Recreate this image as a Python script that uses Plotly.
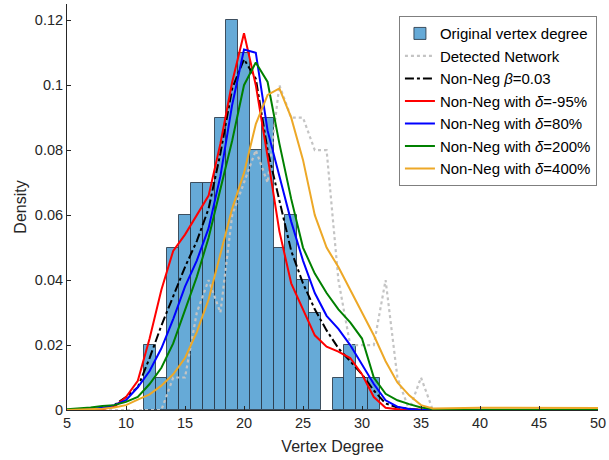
import plotly.graph_objects as go

# ---------------- data ----------------
degree = list(range(5, 51))

hist_centers = [12, 13, 14, 15, 16, 17, 18, 19, 20, 21, 22, 23, 24, 25, 26, 28, 29, 30, 31]
hist_density = [0.02, 0.01, 0.05, 0.06, 0.07, 0.07, 0.09, 0.12, 0.11, 0.08, 0.09, 0.05, 0.06,
                0.04, 0.03, 0.01, 0.02, 0.01, 0.01]

detected = [0, 0, 0, 0, 0, 0, 0, 0, 0, 0.01, 0.01, 0.03, 0.04, 0.03, 0.06, 0.07, 0.08, 0.07,
            0.10, 0.09, 0.09, 0.08, 0.08, 0.04, 0.02, 0.02, 0.02, 0.04, 0.01, 0, 0.01] + [0] * 15

beta_003 = [0, 0, 0.0001, 0.0004, 0.0015, 0.004, 0.007, 0.016, 0.026, 0.035, 0.044, 0.052,
            0.062, 0.079, 0.099, 0.108, 0.102, 0.080, 0.064, 0.049, 0.039, 0.031, 0.0245,
            0.019, 0.015, 0.011, 0.006, 0.002, 0.0008, 0.0003] + [0] * 16

delta_m95 = [0, 0, 0.0001, 0.0003, 0.001, 0.004, 0.009, 0.022, 0.037, 0.049, 0.054, 0.060,
             0.066, 0.082, 0.101, 0.116, 0.100, 0.078, 0.055, 0.039, 0.031, 0.023, 0.0195,
             0.018, 0.016, 0.011, 0.004, 0.0007, 0.0002, 0.0001] + [0] * 16

delta_80 = [0, 0.0001, 0.0003, 0.0007, 0.0015, 0.003, 0.007, 0.012, 0.019, 0.028, 0.038,
            0.046, 0.056, 0.072, 0.094, 0.111, 0.110, 0.086, 0.072, 0.058, 0.046, 0.036,
            0.029, 0.025, 0.020, 0.014, 0.008, 0.003, 0.001, 0.0003] + [0] * 16

delta_200 = [0.0002, 0.0004, 0.0008, 0.0012, 0.0015, 0.0025, 0.004, 0.008, 0.013, 0.0205,
             0.031, 0.041, 0.053, 0.068, 0.083, 0.100, 0.107, 0.101, 0.082, 0.065, 0.050,
             0.042, 0.036, 0.031, 0.027, 0.022, 0.010, 0.005, 0.003, 0.0018, 0.0008,
             0.0003] + [0.0001] * 14

delta_400 = [0, 0.0001, 0.0002, 0.0004, 0.0008, 0.0015, 0.0032, 0.0048, 0.0075, 0.011,
             0.016, 0.024, 0.034, 0.048, 0.062, 0.073, 0.088, 0.097, 0.099, 0.090, 0.077,
             0.060, 0.050, 0.044, 0.037, 0.030, 0.023, 0.015, 0.0085, 0.0045, 0.0015,
             0.0005, 0.0006, 0.0006, 0.0006, 0.0007, 0.0007, 0.0007, 0.0007, 0.0007,
             0.0007, 0.0007, 0.0006, 0.0006, 0.0006, 0.0006]

y_ticks = [0, 0.02, 0.04, 0.06, 0.08, 0.1, 0.12]
y_tick_text = ["0", "0.02", "0.04", "0.06", "0.08", "0.1", "0.12"]
x_ticks = [5, 10, 15, 20, 25, 30, 35, 40, 45, 50]

# ---------------- figure ----------------
FONT = "Liberation Sans, Arial, Helvetica, sans-serif"
fig = go.Figure()

fig.add_trace(go.Bar(
    x=hist_centers, y=hist_density, width=1,
    name="Original vertex degree",
    marker=dict(color="#66AAD7", line=dict(color="rgba(40,55,70,0.85)", width=1)),
))

lines = [
    ("Detected Network", detected, dict(color="#C4C4C4", width=2.2, dash="dot")),
    ("Non-Neg <i>β</i>=0.03", beta_003, dict(color="black", width=2, dash="dashdot")),
    ("Non-Neg with <i>δ</i>=-95%", delta_m95, dict(color="#FF0000", width=2)),
    ("Non-Neg with <i>δ</i>=80%", delta_80, dict(color="#0000FF", width=2)),
    ("Non-Neg with <i>δ</i>=200%", delta_200, dict(color="#008000", width=2)),
    ("Non-Neg with <i>δ</i>=400%", delta_400, dict(color="#EDA827", width=2)),
]
for name, vals, ln in lines:
    fig.add_trace(go.Scatter(x=degree, y=vals, mode="lines", name=name, line=ln))

fig.update_layout(
    width=609, height=460,
    margin=dict(l=67, r=11, t=4, b=50),
    paper_bgcolor="white", plot_bgcolor="white",
    font=dict(family=FONT, size=14, color="#262626"),
    bargap=0,
    showlegend=True,
    legend=dict(
        x=0.998, y=0.97, xanchor="right", yanchor="top",
        bgcolor="white", bordercolor="#7f7f7f", borderwidth=1,
        font=dict(family=FONT, size=15, color="black"),
        tracegroupgap=0, itemwidth=30,
    ),
    xaxis=dict(
        range=[5, 50], tickvals=x_ticks, showgrid=False, zeroline=False,
        showline=True, linecolor="#262626", linewidth=1,
        ticks="inside", ticklen=4, tickcolor="#262626",
        tickfont=dict(size=14.5), automargin=False,
        title=dict(text="Vertex Degree", font=dict(size=16), standoff=10),
    ),
    yaxis=dict(
        range=[0, 0.125], tickvals=y_ticks, ticktext=y_tick_text,
        showgrid=False, zeroline=False,
        showline=True, linecolor="#262626", linewidth=1,
        ticks="inside", ticklen=4, tickcolor="#262626",
        tickfont=dict(size=14.5), automargin=False,
        title=dict(text="Density", font=dict(size=16), standoff=4),
    ),
)

fig.write_html("out.html", config={"displayModeBar": False},
               post_script="document.body.style.margin='0px';")
